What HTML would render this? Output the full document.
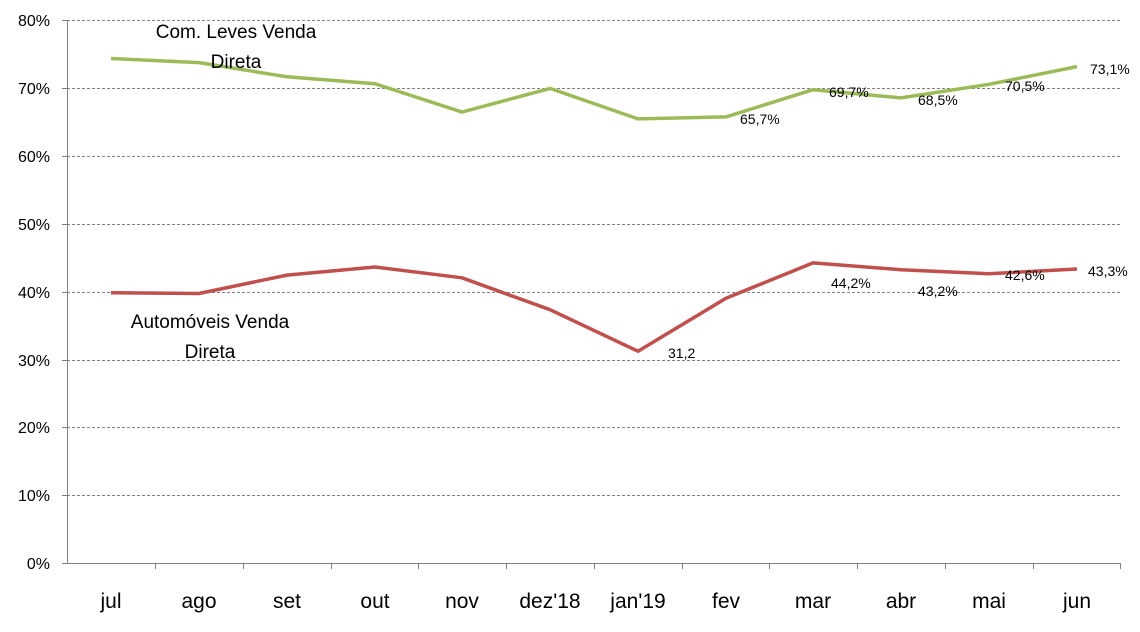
<!DOCTYPE html>
<html><head><meta charset="utf-8"><style>
body{margin:0;background:#fff;}
text{font-family:"Liberation Sans",sans-serif;}
</style></head><body>
<svg width="1140" height="627" xmlns="http://www.w3.org/2000/svg">
<g stroke="#808080" stroke-width="1" stroke-dasharray="3,2">
<line x1="67" y1="20.5" x2="1120" y2="20.5"/>
<line x1="67" y1="88.5" x2="1120" y2="88.5"/>
<line x1="67" y1="156.5" x2="1120" y2="156.5"/>
<line x1="67" y1="224.5" x2="1120" y2="224.5"/>
<line x1="67" y1="292.5" x2="1120" y2="292.5"/>
<line x1="67" y1="360.5" x2="1120" y2="360.5"/>
<line x1="67" y1="427.5" x2="1120" y2="427.5"/>
<line x1="67" y1="495.5" x2="1120" y2="495.5"/>
</g>
<g stroke="#808080" stroke-width="1">
<line x1="67.5" y1="20" x2="67.5" y2="563"/>
<line x1="67" y1="563.5" x2="1120" y2="563.5"/>
<line x1="62" y1="20.5" x2="67" y2="20.5"/><line x1="62" y1="88.5" x2="67" y2="88.5"/>
<line x1="62" y1="156.5" x2="67" y2="156.5"/><line x1="62" y1="224.5" x2="67" y2="224.5"/>
<line x1="62" y1="292.5" x2="67" y2="292.5"/><line x1="62" y1="360.5" x2="67" y2="360.5"/>
<line x1="62" y1="427.5" x2="67" y2="427.5"/><line x1="62" y1="495.5" x2="67" y2="495.5"/>
<line x1="62" y1="563.5" x2="67" y2="563.5"/>
<line x1="155.5" y1="563" x2="155.5" y2="569"/><line x1="243.5" y1="563" x2="243.5" y2="569"/>
<line x1="331.5" y1="563" x2="331.5" y2="569"/><line x1="418.5" y1="563" x2="418.5" y2="569"/>
<line x1="506.5" y1="563" x2="506.5" y2="569"/><line x1="594.5" y1="563" x2="594.5" y2="569"/>
<line x1="682.5" y1="563" x2="682.5" y2="569"/><line x1="769.5" y1="563" x2="769.5" y2="569"/>
<line x1="857.5" y1="563" x2="857.5" y2="569"/><line x1="945.5" y1="563" x2="945.5" y2="569"/>
<line x1="1033.5" y1="563" x2="1033.5" y2="569"/><line x1="1120.5" y1="563" x2="1120.5" y2="569"/>
</g>
<g font-size="16" fill="#000" text-anchor="end">
<text x="50" y="26">80%</text><text x="50" y="94">70%</text><text x="50" y="162">60%</text>
<text x="50" y="230">50%</text><text x="50" y="298">40%</text><text x="50" y="366">30%</text>
<text x="50" y="433">20%</text><text x="50" y="501">10%</text><text x="50" y="569">0%</text>
</g>
<g font-size="21" fill="#000" text-anchor="middle">
<text x="111" y="608">jul</text><text x="199" y="608">ago</text><text x="287" y="608">set</text>
<text x="375" y="608">out</text><text x="462" y="608">nov</text><text x="550" y="608">dez'18</text>
<text x="638" y="608">jan'19</text><text x="726" y="608">fev</text><text x="813" y="608">mar</text>
<text x="901" y="608">abr</text><text x="989" y="608">mai</text><text x="1077" y="608">jun</text>
</g>
<polyline fill="none" stroke="#9bbb59" stroke-width="3.5" stroke-linejoin="round"
points="111,58.5 199,62.6 287,76.8 375,83.7 462,112.1 550,88.4 638,118.9 726,116.9 813,89.7 901,97.9 989,84.3 1077,66.6"/>
<polyline fill="none" stroke="#c0504d" stroke-width="3.5" stroke-linejoin="round"
points="111,292.8 199,293.5 287,275.1 375,267.0 462,277.8 550,309.7 638,351.2 726,298.2 813,262.9 901,269.7 989,273.7 1077,269.0"/>
<g font-size="14" fill="#000">
<text x="740" y="124">65,7%</text><text x="829" y="97">69,7%</text><text x="918" y="105">68,5%</text>
<text x="1005" y="91">70,5%</text><text x="1090" y="74">73,1%</text>
<text x="668" y="358">31,2</text><text x="831" y="288">44,2%</text><text x="918" y="296">43,2%</text>
<text x="1005" y="280">42,6%</text><text x="1088" y="276">43,3%</text>
</g>
<g font-size="19" fill="#000" text-anchor="middle">
<text x="236" y="38">Com. Leves Venda</text><text x="236" y="68">Direta</text>
<text x="210" y="328">Automóveis Venda</text><text x="210" y="358">Direta</text>
</g>
</svg>
</body></html>
